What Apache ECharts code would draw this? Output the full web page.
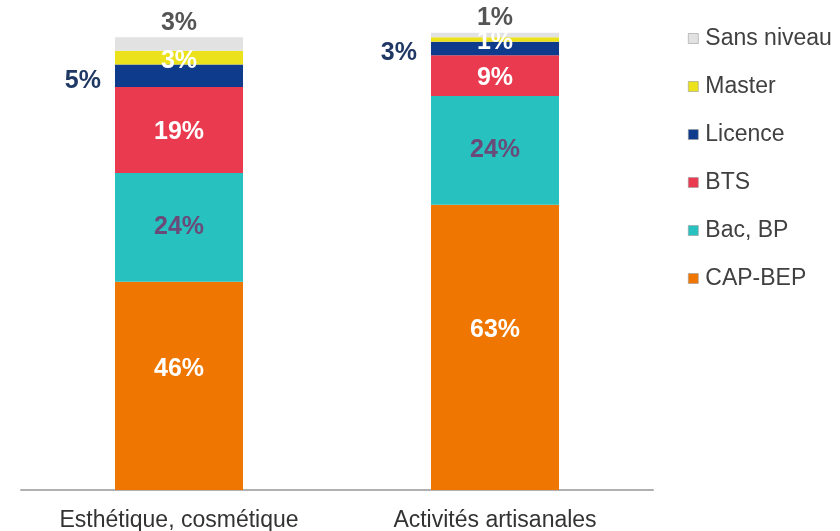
<!DOCTYPE html>
<html>
<head>
<meta charset="utf-8">
<script src="https://cdn.jsdelivr.net/npm/echarts@6/dist/echarts.min.js"></script>
<style>
  html, body { margin: 0; padding: 0; background: #fff; }
  #chart { width: 840px; height: 531px; }
</style>
</head>
<body>
<div id="chart"></div>
<script>
// Répartition des niveaux de diplôme par secteur (en %)
const categories = ['Esthétique, cosmétique', 'Activités artisanales'];
const capBep     = [46, 63];
const bacBp      = [24, 24];
const bts        = [19, 9];
const licence    = [5, 3];
const master     = [3, 1];
const sansNiveau = [3, 1];
const legendOrder = ['Sans niveau', 'Master', 'Licence', 'BTS', 'Bac, BP', 'CAP-BEP'];

const font = 'Liberation Sans, Arial, sans-serif';
const pct = p => p.value + '%';

function layer(name, data, color, label) {
  return {
    name: name,
    type: 'bar',
    stack: 'total',
    barWidth: 128,
    clip: false,
    data: data,
    itemStyle: { color: color },
    label: Object.assign({
      show: true,
      formatter: pct,
      fontFamily: font,
      fontWeight: 'bold',
      fontSize: 25
    }, label)
  };
}

const chart = echarts.init(document.getElementById('chart'));
chart.setOption({
  animation: false,
  grid: { left: 21, right: 187, top: 35, bottom: 41, outerBoundsMode: 'none' },
  legend: {
    data: legendOrder,
    orient: 'vertical',
    left: 688,
    top: 27,
    padding: 0,
    itemWidth: 10,
    itemHeight: 10,
    itemGap: 25,
    icon: 'rect',
    itemStyle: { borderColor: '#9a9a9a', borderWidth: 0.6 },
    textStyle: { fontFamily: font, fontSize: 23, color: '#404040', padding: [0, 0, 0, 2] }
  },
  xAxis: {
    type: 'category',
    data: categories,
    axisTick: { show: false },
    axisLine: { lineStyle: { color: '#b0b0b0', width: 2 } },
    axisLabel: { fontFamily: font, fontSize: 23, color: '#333', margin: 19 }
  },
  yAxis: {
    type: 'value',
    min: 0,
    max: 100.5,
    show: false
  },
  series: [
    layer('CAP-BEP', capBep, '#ef7600', { position: 'inside', color: '#fff', offset: [0, -17] }),
    layer('Bac, BP', bacBp, '#27c2bf', { position: 'inside', color: '#6a4a78' }),
    layer('BTS', bts, '#e93a50', { position: 'inside', color: '#fff', offset: [0, 2] }),
    layer('Licence', licence, '#0e3b8c', { position: 'left', distance: 14, color: '#1f3864', offset: [0, 5] }),
    layer('Master', master, '#ece21c', { position: 'inside', color: '#fff', offset: [0, 3] }),
    layer('Sans niveau', sansNiveau, '#e2e2e2', { position: 'top', distance: 2, color: '#555' })
  ]
});
</script>
</body>
</html>
